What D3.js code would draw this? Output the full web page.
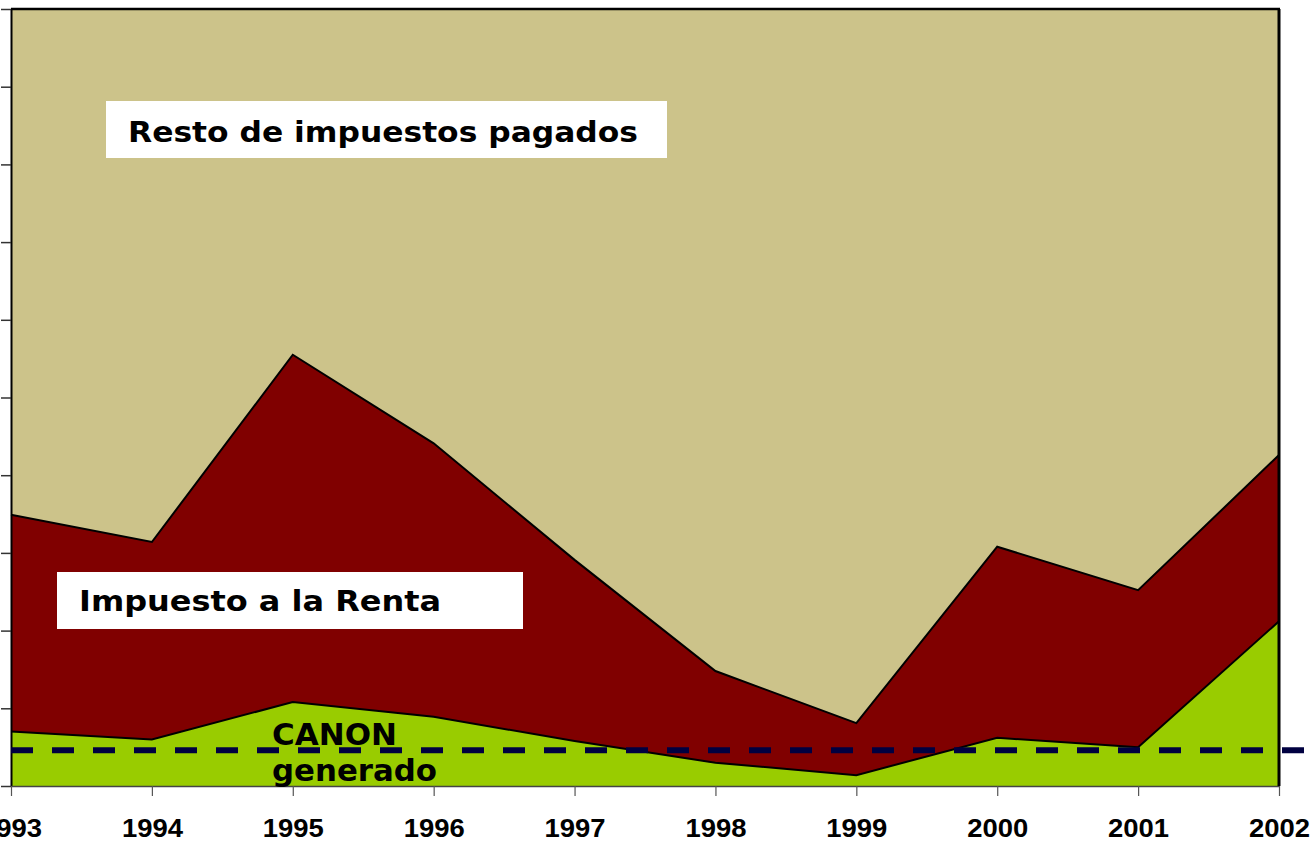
<!DOCTYPE html>
<html>
<head>
<meta charset="utf-8">
<script src="https://cdn.jsdelivr.net/npm/d3@7"></script>
<style>
html,body{margin:0;padding:0;background:#fff;}
svg{display:block;}
</style>
</head>
<body>
<svg id="chart" width="1311" height="842"></svg>
<script>
// ---- data ----
const years = [1993, 1994, 1995, 1996, 1997, 1998, 1999, 2000, 2001, 2002];
const canon = [0.70, 0.60, 1.08, 0.89, 0.58, 0.30, 0.14, 0.62, 0.50, 2.12];
const renta = [2.79, 2.54, 4.47, 3.52, 2.33, 1.18, 0.67, 2.46, 2.02, 2.14];
const resto = [6.51, 6.86, 4.45, 5.59, 7.09, 8.52, 9.19, 6.92, 7.48, 5.74];
const canonDistribuido = 0.46;
const yTicks = [0, 1, 2, 3, 4, 5, 6, 7, 8, 9, 10];
const seriesKeys = ["canon", "renta", "resto"];
const colors = {canon: "#99CC00", renta: "#800000", resto: "#CCC38A"};

(function () {
const svg = d3.select("#chart");
const mLeft = 11, mRight = 1279, mTop = 9, mBottom = 786;

const x = d3.scaleLinear().domain([years[0], years[years.length - 1]]).range([mLeft, mRight]);
const y = d3.scaleLinear().domain([0, 10]).range([mBottom, mTop]);

const table = years.map((yr, i) => ({year: yr, canon: canon[i], renta: renta[i], resto: resto[i]}));
const layers = d3.stack().keys(seriesKeys)(table);

const area = d3.area()
  .x(d => x(d.data.year))
  .y0(d => y(d[0]))
  .y1(d => y(d[1]));

svg.append("g").selectAll("path").data(layers).join("path")
  .attr("d", area)
  .attr("fill", d => colors[d.key]);

// boundary lines (top of canon, top of renta)
const line = d3.line().x(d => x(d.data.year)).y(d => y(d[1]));
svg.append("g").selectAll("path").data(layers.slice(0, 2)).join("path")
  .attr("d", line)
  .attr("fill", "none")
  .attr("stroke", "#000")
  .attr("stroke-width", 2);

// axes
const yAxis = d3.axisLeft(y).tickValues(yTicks).tickFormat("").tickSize(10).tickSizeOuter(0);
const gy = svg.append("g").attr("transform", `translate(${mLeft},0)`).call(yAxis);
gy.select(".domain").attr("stroke", "#000").attr("stroke-width", 2);
gy.selectAll(".tick line").attr("stroke", "#333").attr("stroke-width", 1.5);

const xAxis = d3.axisBottom(x).tickValues(years).tickFormat(d3.format("d")).tickSize(10).tickSizeOuter(0);
const gx = svg.append("g").attr("transform", `translate(0,${mBottom})`).call(xAxis);
gx.select(".domain").attr("stroke", "#444").attr("stroke-width", 1.5);
gx.selectAll(".tick line").attr("stroke", "#555").attr("stroke-width", 1.2);
gx.selectAll(".tick text")
  .attr("font-family", "'Liberation Sans', Arial, sans-serif")
  .attr("font-weight", "bold")
  .attr("font-size", 26)
  .attr("fill", "#000")
  .attr("dy", null)
  .attr("y", 51)
  .attr("textLength", 61)
  .attr("lengthAdjust", "spacingAndGlyphs");

// top and right borders
svg.append("line").attr("x1", mLeft).attr("x2", mRight + 1).attr("y1", mTop).attr("y2", mTop)
  .attr("stroke", "#000").attr("stroke-width", 2.5);
svg.append("line").attr("x1", mRight).attr("x2", mRight).attr("y1", mTop).attr("y2", mBottom)
  .attr("stroke", "#000").attr("stroke-width", 3);

// dashed reference line
svg.append("line")
  .attr("x1", mLeft).attr("x2", 1311)
  .attr("y1", y(canonDistribuido)).attr("y2", y(canonDistribuido))
  .attr("stroke", "#000040").attr("stroke-width", 6)
  .attr("stroke-dasharray", "22,19");

// labels
const font = "'DejaVu Sans', Verdana, sans-serif";
function label(txt, tx, ty, size, len) {
  svg.append("text").attr("x", tx).attr("y", ty).text(txt)
    .attr("font-family", font).attr("font-weight", "bold").attr("font-size", size).attr("fill", "#000")
    .attr("textLength", len).attr("lengthAdjust", "spacingAndGlyphs");
}
function boxLabel(txt, bx, by, bw, bh, tx, ty, len) {
  svg.append("rect").attr("x", bx).attr("y", by).attr("width", bw).attr("height", bh).attr("fill", "#fff");
  label(txt, tx, ty, 27.5, len);
}
boxLabel("Resto de impuestos pagados", 106, 101, 561, 57, 128, 142, 510);
boxLabel("Impuesto a la Renta", 57, 572, 466, 57, 79, 611, 362);

label("CANON", 272, 745, 30, 125);
label("generado", 272, 781, 30, 165);
})();
</script>
</body>
</html>
